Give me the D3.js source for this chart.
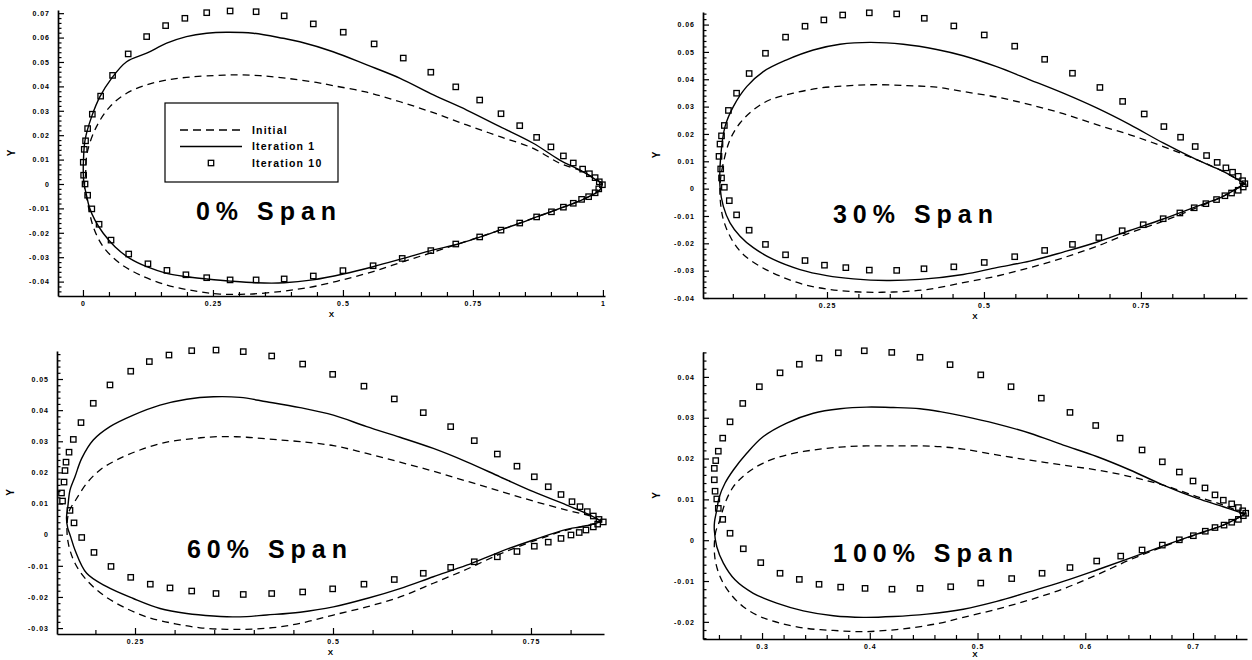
<!DOCTYPE html>
<html>
<head>
<meta charset="utf-8">
<script src="https://cdn.jsdelivr.net/npm/d3@7"></script>
<style>
  body { margin: 0; background: #fff; }
  svg { display: block; font-family: "Liberation Sans", Arial, sans-serif; }
</style>
</head>
<body>
<svg id="chart" width="1252" height="660"></svg>
<script>
// ---- Data (x/c, y/c), each surface listed from leading edge to trailing edge ----

// 0% span
var span0XTicks = [0, 0.25, 0.5, 0.75, 1];
var span0YTicks = [-0.04, -0.03, -0.02, -0.01, 0, 0.01, 0.02, 0.03, 0.04, 0.05, 0.06, 0.07];
var span0InitialUpper = [[0.003,-0.0008],[0.005,0.0037],[0.008,0.0127],[0.026,0.0235],[0.052,0.0317],[0.084,0.0372],[0.1225,0.0406],[0.161,0.0426],[0.199,0.0437],[0.238,0.0443],[0.289,0.0447],[0.34,0.0444],[0.392,0.0433],[0.449,0.0416],[0.481,0.0403],[0.546,0.0376],[0.61,0.0337],[0.674,0.0292],[0.738,0.0242],[0.802,0.0194],[0.866,0.0146],[0.917,0.0085],[0.962,0.005],[0.999,0.0003]];
var span0InitialLower = [[0.008,-0.0066],[0.0198,-0.0175],[0.039,-0.0257],[0.071,-0.0325],[0.11,-0.0373],[0.161,-0.0414],[0.212,-0.0437],[0.2635,-0.0451],[0.321,-0.0451],[0.379,-0.0441],[0.417,-0.043],[0.449,-0.0418],[0.5006,-0.0392],[0.558,-0.0359],[0.616,-0.0318],[0.674,-0.0279],[0.738,-0.0234],[0.802,-0.0189],[0.8725,-0.0135],[0.924,-0.0095],[0.962,-0.0063],[0.994,-0.0025],[0.999,0.0003]];
var span0Iter1Upper = [[0.002,0],[0.0006,0.005],[0.001,0.0098],[0.004,0.018],[0.0167,0.0276],[0.0327,0.0358],[0.055,0.0433],[0.084,0.0501],[0.1225,0.0536],[0.161,0.0577],[0.199,0.0604],[0.238,0.0618],[0.276,0.0622],[0.3275,0.0618],[0.385,0.0597],[0.417,0.0583],[0.481,0.0542],[0.546,0.0488],[0.61,0.0433],[0.674,0.0365],[0.738,0.0303],[0.802,0.0235],[0.866,0.0167],[0.917,0.0098],[0.962,0.005],[0.999,0]];
var span0Iter1Lower = [[0.006,-0.0038],[0.012,-0.0093],[0.023,-0.0148],[0.039,-0.0202],[0.0615,-0.0257],[0.09,-0.0305],[0.1225,-0.0339],[0.161,-0.0366],[0.199,-0.038],[0.238,-0.0389],[0.283,-0.0398],[0.333,-0.0405],[0.387,-0.0405],[0.442,-0.0393],[0.5006,-0.0369],[0.558,-0.0339],[0.616,-0.0305],[0.674,-0.027],[0.7185,-0.0248],[0.763,-0.0218],[0.802,-0.0189],[0.84,-0.0161],[0.8725,-0.0135],[0.924,-0.0095],[0.962,-0.0063],[0.994,-0.0025],[0.999,0]];
var span0Iter10Upper = [[0.004,0],[0.0013,0.0036],[0.0006,0.0089],[0.0025,0.0142],[0.005,0.0177],[0.009,0.0227],[0.018,0.0286],[0.034,0.036],[0.057,0.0445],[0.087,0.0533],[0.1225,0.0604],[0.159,0.0649],[0.196,0.0679],[0.238,0.0702],[0.283,0.0709],[0.333,0.0706],[0.387,0.0689],[0.443,0.0656],[0.5006,0.0622],[0.56,0.0574],[0.616,0.0516],[0.669,0.0458],[0.717,0.0398],[0.763,0.0344],[0.804,0.0288],[0.84,0.0239],[0.8725,0.0191],[0.9,0.0152],[0.924,0.0115],[0.943,0.0086],[0.961,0.0061],[0.974,0.0042],[0.985,0.0026],[0.993,0.0009],[0.999,-0.0003]];
var span0Iter10Lower = [[0.009,-0.0046],[0.017,-0.0102],[0.031,-0.0165],[0.054,-0.023],[0.088,-0.0287],[0.125,-0.0327],[0.1615,-0.0354],[0.198,-0.0372],[0.238,-0.0384],[0.283,-0.0393],[0.333,-0.0393],[0.387,-0.0389],[0.443,-0.0377],[0.5,-0.0355],[0.558,-0.0335],[0.614,-0.0305],[0.669,-0.0273],[0.717,-0.0246],[0.763,-0.0217],[0.804,-0.0189],[0.84,-0.016],[0.8725,-0.0135],[0.901,-0.0114],[0.924,-0.0095],[0.943,-0.0079],[0.959,-0.0063],[0.9725,-0.0052],[0.985,-0.0036],[0.992,-0.002]];

// 30% span
var span30XTicks = [0.25, 0.5, 0.75];
var span30YTicks = [-0.04, -0.03, -0.02, -0.01, 0, 0.01, 0.02, 0.03, 0.04, 0.05, 0.06];
var span30InitialUpper = [[0.0804,0.0033],[0.0849,0.0094],[0.0955,0.0179],[0.1115,0.024],[0.1326,0.0288],[0.1592,0.0325],[0.1963,0.0349],[0.2389,0.0368],[0.2814,0.0376],[0.3237,0.038],[0.3769,0.0377],[0.4247,0.0371],[0.467,0.0355],[0.5202,0.0335],[0.5732,0.0307],[0.6263,0.0274],[0.6795,0.0234],[0.7325,0.0197],[0.7855,0.0154],[0.8387,0.0106],[0.881,0.0063],[0.9156,0.0018]];
var span30InitialLower = [[0.0796,-0.0028],[0.0849,-0.0113],[0.0983,-0.0186],[0.1167,-0.0241],[0.1433,-0.0284],[0.1752,-0.032],[0.2123,-0.035],[0.2548,-0.0369],[0.3025,-0.0378],[0.3556,-0.0378],[0.4088,-0.0369],[0.467,-0.0344],[0.5202,-0.032],[0.5732,-0.0289],[0.6263,-0.0253],[0.6795,-0.0211],[0.7325,-0.0162],[0.7855,-0.0119],[0.8387,-0.007],[0.881,-0.0028],[0.9156,0.0018]];
var span30Iter1Upper = [[0.0796,0.0008],[0.0807,0.0118],[0.0876,0.0227],[0.1008,0.03],[0.1221,0.0373],[0.1486,0.0428],[0.1858,0.0471],[0.2282,0.0507],[0.2707,0.0528],[0.3185,0.0535],[0.3715,0.0528],[0.4247,0.0509],[0.467,0.0486],[0.5202,0.0446],[0.5732,0.0398],[0.6263,0.0349],[0.6795,0.0295],[0.7325,0.0234],[0.7855,0.0167],[0.8387,0.0106],[0.881,0.0063],[0.9156,0.0018]];
var span30Iter1Lower = [[0.0849,-0.0065],[0.0955,-0.0125],[0.1115,-0.0174],[0.1326,-0.0216],[0.1645,-0.0259],[0.207,-0.0296],[0.2495,-0.0318],[0.2919,-0.033],[0.3451,-0.0336],[0.3981,-0.0332],[0.467,-0.0314],[0.5202,-0.0289],[0.5732,-0.0265],[0.6263,-0.0232],[0.6795,-0.0196],[0.7325,-0.0153],[0.7855,-0.0111],[0.8387,-0.0065],[0.881,-0.0028],[0.9156,0.0018]];
var span30Iter10Upper = [[0.082,0.0039],[0.0807,0.0072],[0.078,0.0118],[0.0796,0.0163],[0.082,0.0193],[0.0865,0.0231],[0.093,0.0286],[0.106,0.0349],[0.126,0.0421],[0.152,0.0495],[0.184,0.0554],[0.215,0.0594],[0.245,0.0617],[0.275,0.0635],[0.3174,0.0643],[0.361,0.0639],[0.405,0.0623],[0.452,0.0595],[0.5005,0.0562],[0.549,0.0521],[0.5967,0.0473],[0.641,0.0422],[0.6847,0.037],[0.7209,0.0319],[0.7553,0.0273],[0.7866,0.0227],[0.8132,0.0188],[0.8365,0.0154],[0.8546,0.0121],[0.8715,0.0096],[0.8854,0.0076],[0.896,0.006],[0.905,0.0045],[0.912,0.0029],[0.9156,0.0018]];
var span30Iter10Lower = [[0.0865,0.0005],[0.0944,-0.0044],[0.106,-0.0096],[0.126,-0.0152],[0.152,-0.0204],[0.184,-0.0242],[0.215,-0.0263],[0.246,-0.028],[0.28,-0.0289],[0.3174,-0.0298],[0.361,-0.0299],[0.4045,-0.0293],[0.452,-0.0286],[0.5005,-0.027],[0.549,-0.0249],[0.5967,-0.0226],[0.641,-0.0204],[0.683,-0.0179],[0.7202,-0.0154],[0.7537,-0.0132],[0.7855,-0.011],[0.8121,-0.0089],[0.8349,-0.007],[0.8535,-0.0055],[0.8705,-0.004],[0.8838,-0.0026],[0.8944,-0.0016],[0.905,-0.0006],[0.913,0.0006]];

// 60% span
var span60XTicks = [0.25, 0.5, 0.75];
var span60YTicks = [-0.03, -0.02, -0.01, 0, 0.01, 0.02, 0.03, 0.04, 0.05];
var span60InitialUpper = [[0.1641,0.0024],[0.1668,0.0075],[0.1755,0.0113],[0.189,0.0165],[0.2058,0.0208],[0.2269,0.024],[0.2563,0.0272],[0.29,0.0297],[0.3236,0.0309],[0.3573,0.0315],[0.391,0.0313],[0.4246,0.0306],[0.4584,0.0299],[0.5005,0.0286],[0.5426,0.0261],[0.5846,0.0233],[0.6267,0.0204],[0.6688,0.0172],[0.7109,0.014],[0.753,0.0108],[0.795,0.0079],[0.8245,0.006],[0.8393,0.0043]];
var span60InitialLower = [[0.1658,-0.0028],[0.1742,-0.0092],[0.189,-0.0146],[0.21,-0.0194],[0.2352,-0.0232],[0.2648,-0.0264],[0.2984,-0.0285],[0.3321,-0.0299],[0.3658,-0.0304],[0.3994,-0.0303],[0.4331,-0.0296],[0.4668,-0.028],[0.5005,-0.0258],[0.5426,-0.0232],[0.5846,-0.02],[0.6267,-0.0156],[0.6688,-0.0111],[0.7109,-0.0062],[0.753,-0.0021],[0.795,0.0015],[0.8245,0.0031],[0.8393,0.0043]];
var span60Iter1Upper = [[0.1635,0.0053],[0.1654,0.0095],[0.1679,0.0143],[0.1742,0.0186],[0.1827,0.0245],[0.1973,0.0304],[0.2184,0.0347],[0.2479,0.0384],[0.2816,0.0416],[0.3153,0.0435],[0.3489,0.0443],[0.3826,0.0441],[0.4163,0.0427],[0.4584,0.0408],[0.5005,0.0384],[0.5426,0.0347],[0.5846,0.0313],[0.6267,0.0277],[0.6688,0.0234],[0.7109,0.0186],[0.753,0.0138],[0.795,0.0095],[0.8245,0.0063],[0.8393,0.0043]];
var span60Iter1Lower = [[0.165,0.0022],[0.1688,-0.0007],[0.1742,-0.0049],[0.189,-0.0124],[0.2143,-0.0167],[0.2479,-0.0205],[0.2816,-0.0237],[0.3153,-0.0253],[0.3489,-0.0261],[0.3826,-0.0264],[0.4163,-0.0258],[0.4584,-0.0249],[0.5005,-0.0232],[0.5426,-0.0205],[0.5846,-0.0173],[0.6267,-0.0135],[0.6688,-0.0098],[0.7109,-0.0055],[0.753,-0.0017],[0.795,0.0017],[0.8245,0.0031],[0.8393,0.0043]];
var span60Iter10Upper = [[0.1572,0.0134],[0.1604,0.0169],[0.1616,0.0206],[0.1629,0.0233],[0.1667,0.0265],[0.1721,0.0306],[0.1818,0.036],[0.1973,0.0422],[0.2184,0.0481],[0.2446,0.0525],[0.2681,0.0556],[0.2929,0.0577],[0.3216,0.0591],[0.3523,0.0593],[0.3867,0.0588],[0.4226,0.0574],[0.4617,0.0548],[0.4996,0.0515],[0.5391,0.0477],[0.5774,0.0436],[0.614,0.0392],[0.6486,0.0347],[0.6784,0.0302],[0.7075,0.0259],[0.7323,0.022],[0.7542,0.0186],[0.7718,0.0154],[0.7879,0.0129],[0.8018,0.0106],[0.8119,0.009],[0.8211,0.0074],[0.8287,0.006],[0.8359,0.0049],[0.8413,0.0041]];
var span60Iter10Lower = [[0.1585,0.0108],[0.1679,0.0078],[0.173,0.0038],[0.1827,-0.0009],[0.1982,-0.0057],[0.2197,-0.0102],[0.2446,-0.0137],[0.2693,-0.0159],[0.2942,-0.0171],[0.3216,-0.0181],[0.3523,-0.0189],[0.3867,-0.0192],[0.4226,-0.0189],[0.4617,-0.0184],[0.4996,-0.0174],[0.5391,-0.0159],[0.5774,-0.0144],[0.614,-0.0124],[0.6486,-0.0105],[0.6784,-0.0087],[0.7075,-0.0071],[0.7323,-0.0054],[0.7542,-0.0037],[0.7718,-0.0024],[0.7879,-0.0012],[0.8005,-0.0001],[0.8109,0.0007],[0.8194,0.0015],[0.8287,0.0025],[0.8342,0.0034]];

// 100% span
var span100XTicks = [0.3, 0.4, 0.5, 0.6, 0.7];
var span100YTicks = [-0.02, -0.01, 0, 0.01, 0.02, 0.03, 0.04];
var span100InitialUpper = [[0.2568,0.0018],[0.261,0.005],[0.2657,0.0091],[0.2734,0.0131],[0.2858,0.0164],[0.3012,0.0189],[0.3229,0.0209],[0.3476,0.0221],[0.3724,0.0228],[0.3972,0.0231],[0.4219,0.0231],[0.4466,0.0231],[0.4652,0.0229],[0.4868,0.0223],[0.5178,0.0209],[0.5487,0.0196],[0.5796,0.0184],[0.6106,0.0172],[0.6415,0.0156],[0.6724,0.0135],[0.7034,0.0107],[0.7281,0.0086],[0.7483,0.0064]];
var span100InitialLower = [[0.2561,-0.004],[0.261,-0.0089],[0.2703,-0.013],[0.2826,-0.0163],[0.2981,-0.0187],[0.3167,-0.0203],[0.3415,-0.0216],[0.3662,-0.0221],[0.391,-0.0224],[0.4158,-0.0221],[0.4404,-0.0214],[0.4652,-0.0203],[0.4868,-0.0189],[0.5178,-0.0169],[0.5487,-0.0146],[0.5796,-0.0119],[0.6106,-0.0085],[0.6415,-0.0048],[0.6724,-0.0016],[0.7034,0.0014],[0.7281,0.0037],[0.7483,0.0064]];
var span100Iter1Upper = [[0.2559,0.0045],[0.258,0.0074],[0.2601,0.0104],[0.2657,0.014],[0.2734,0.0172],[0.2858,0.0213],[0.3012,0.0254],[0.3229,0.0287],[0.3476,0.0311],[0.3724,0.0322],[0.3972,0.0326],[0.4219,0.0325],[0.4466,0.0322],[0.4652,0.0315],[0.4868,0.0304],[0.5178,0.0285],[0.5487,0.0262],[0.5796,0.0233],[0.6106,0.0205],[0.6415,0.0172],[0.6724,0.0135],[0.7034,0.0103],[0.7281,0.0082],[0.7483,0.0064]];
var span100Iter1Lower = [[0.2557,0.0025],[0.258,-0.0016],[0.2641,-0.0056],[0.2749,-0.0097],[0.2919,-0.013],[0.3136,-0.0154],[0.3383,-0.0173],[0.3662,-0.0185],[0.394,-0.0189],[0.4219,-0.0187],[0.4529,-0.0181],[0.4868,-0.0169],[0.5178,-0.015],[0.5487,-0.0126],[0.5796,-0.0101],[0.6106,-0.0073],[0.6415,-0.0044],[0.6724,-0.0014],[0.7034,0.0015],[0.7281,0.0037],[0.7483,0.0064]];
var span100Iter10Upper = [[0.2557,0.0148],[0.2557,0.0176],[0.257,0.0195],[0.2594,0.0218],[0.2635,0.025],[0.2703,0.029],[0.2821,0.0335],[0.2975,0.0376],[0.3167,0.041],[0.3346,0.0431],[0.3529,0.0446],[0.3708,0.0459],[0.3949,0.0464],[0.4204,0.046],[0.4466,0.0448],[0.4745,0.043],[0.503,0.0405],[0.5311,0.0376],[0.5592,0.0348],[0.5858,0.0313],[0.6097,0.0281],[0.6323,0.025],[0.6527,0.0221],[0.6715,0.0192],[0.6873,0.0167],[0.7,0.0145],[0.7111,0.0128],[0.7204,0.0111],[0.7281,0.0098],[0.7359,0.0089],[0.7421,0.008],[0.7461,0.0072],[0.7489,0.0066]];
var span100Iter10Lower = [[0.2564,0.012],[0.258,0.0101],[0.2594,0.0078],[0.2635,0.0051],[0.2703,0.0017],[0.2826,-0.0021],[0.2988,-0.0055],[0.3167,-0.0081],[0.3346,-0.0096],[0.3529,-0.0108],[0.373,-0.0115],[0.3956,-0.0118],[0.4206,-0.012],[0.4466,-0.0118],[0.4751,-0.0114],[0.503,-0.0105],[0.5317,-0.0094],[0.5599,-0.0081],[0.5858,-0.0067],[0.6106,-0.0051],[0.6329,-0.0039],[0.6527,-0.0024],[0.6715,-0.0012],[0.6873,0.0001],[0.7003,0.0011],[0.7114,0.0022],[0.7204,0.0031],[0.7288,0.0037],[0.7359,0.0044],[0.7421,0.0051],[0.7467,0.006]];

var legendLabels = ["Initial", "Iteration 1", "Iteration 10"];

// ---- Panel layout ----
var panels = [
    { title: "0% Span", left: 58, right: 605, top: 10, bottom: 296,
      xDomain: [-0.048, 1.004], yDomain: [-0.0459, 0.0713],
      xTicks: span0XTicks, yTicks: span0YTicks, xMinor: 0.05,
      initial: [span0InitialUpper, span0InitialLower],
      iter1: [span0Iter1Upper, span0Iter1Lower],
      iter10: [span0Iter10Upper, span0Iter10Lower],
      titleX: 266, titleY: 220, legend: true },
    { title: "30% Span", left: 703, right: 1247, top: 12, bottom: 298,
      xDomain: [0.0525, 0.919], yDomain: [-0.04, 0.0646],
      xTicks: span30XTicks, yTicks: span30YTicks, xMinor: 0.05,
      initial: [span30InitialUpper, span30InitialLower],
      iter1: [span30Iter1Upper, span30Iter1Lower],
      iter10: [span30Iter10Upper, span30Iter10Lower],
      titleX: 913, titleY: 223 },
    { title: "60% Span", left: 57, right: 604, top: 351, bottom: 634,
      xDomain: [0.1515, 0.8422], yDomain: [-0.0319, 0.059],
      xTicks: span60XTicks, yTicks: span60YTicks, xMinor: 0.05,
      initial: [span60InitialUpper, span60InitialLower],
      iter1: [span60Iter1Upper, span60Iter1Lower],
      iter10: [span60Iter10Upper, span60Iter10Lower],
      titleX: 267, titleY: 558 },
    { title: "100% Span", left: 703, right: 1247, top: 352, bottom: 639,
      xDomain: [0.2452, 0.7501], yDomain: [-0.0242, 0.0461],
      xTicks: span100XTicks, yTicks: span100YTicks, xMinor: 0.02,
      initial: [span100InitialUpper, span100InitialLower],
      iter1: [span100Iter1Upper, span100Iter1Lower],
      iter10: [span100Iter10Upper, span100Iter10Lower],
      titleX: 923, titleY: 562 }
];

var svg = d3.select("#chart");
var tickFormat = function (d) { return String(+d.toFixed(3)); };

// minor tick values on a fixed step, skipping the labelled ones
function minorTicks(domain, step, majors) {
    var out = [];
    for (var i = Math.ceil(domain[0] / step - 1e-9); i * step <= domain[1] + 1e-9; i++) {
        var v = +(i * step).toFixed(4);
        if (!majors.some(function (m) { return Math.abs(m - v) < 1e-6; })) out.push(v);
    }
    return out;
}

// closed-ish section: upper surface from TE back to LE, then lower surface to TE
function section(pair) {
    return pair[0].slice().reverse().concat(pair[1]);
}

panels.forEach(function (p) {
    var x = d3.scaleLinear().domain(p.xDomain).range([p.left, p.right]);
    var y = d3.scaleLinear().domain(p.yDomain).range([p.bottom, p.top]);
    var g = svg.append("g");

    var line = d3.line()
        .x(function (d) { return x(d[0]); })
        .y(function (d) { return y(d[1]); })
        .curve(d3.curveCatmullRom.alpha(0.5));

    // Initial (dashed)
    g.append("path")
        .attr("d", line(section(p.initial)))
        .attr("fill", "none")
        .attr("stroke", "#000")
        .attr("stroke-width", 1.3)
        .attr("stroke-dasharray", "7,5");

    // Iteration 1 (solid)
    g.append("path")
        .attr("d", line(section(p.iter1)))
        .attr("fill", "none")
        .attr("stroke", "#000")
        .attr("stroke-width", 1.4);

    // Iteration 10 (open squares)
    g.selectAll("rect.sq")
        .data(p.iter10[0].concat(p.iter10[1]))
        .enter()
        .append("rect")
        .attr("class", "sq")
        .attr("x", function (d) { return x(d[0]) - 2.7; })
        .attr("y", function (d) { return y(d[1]) - 2.7; })
        .attr("width", 5.4)
        .attr("height", 5.4)
        .attr("fill", "none")
        .attr("stroke", "#000")
        .attr("stroke-width", 1.3);

    // Axes
    g.append("g")
        .attr("transform", "translate(" + p.left + ",0)")
        .call(d3.axisLeft(y).tickValues(p.yTicks).tickSize(-6).tickSizeOuter(0).tickPadding(8).tickFormat(tickFormat));
    g.append("g")
        .attr("transform", "translate(" + p.left + ",0)")
        .call(d3.axisLeft(y).tickValues(minorTicks(p.yDomain, 0.002, p.yTicks)).tickSize(-3.5).tickSizeOuter(0).tickFormat(""))
        .select(".domain").remove();

    g.append("g")
        .attr("transform", "translate(0," + p.bottom + ")")
        .call(d3.axisBottom(x).tickValues(p.xTicks).tickSize(-6).tickSizeOuter(0).tickPadding(5).tickFormat(tickFormat));
    g.append("g")
        .attr("transform", "translate(0," + p.bottom + ")")
        .call(d3.axisBottom(x).tickValues(minorTicks(p.xDomain, p.xMinor, p.xTicks)).tickSize(-4).tickSizeOuter(0).tickFormat(""))
        .select(".domain").remove();

    g.selectAll(".domain").attr("stroke", "#000").attr("stroke-width", 1.7);
    g.selectAll(".tick line").attr("stroke", "#000").attr("stroke-width", 1.2);
    g.selectAll(".tick text")
        .attr("fill", "#000")
        .style("font-size", "7px")
        .style("font-weight", "bold")
        .style("letter-spacing", "1px");

    // Axis titles
    g.append("text")
        .attr("x", (p.left + p.right) / 2)
        .attr("y", Math.min(p.bottom + 21, 657))
        .attr("text-anchor", "middle")
        .style("font-size", "8px")
        .style("font-weight", "bold")
        .text("X");

    g.append("text")
        .attr("transform", "translate(" + (p.left - 43) + "," + ((p.top + p.bottom) / 2) + ") rotate(-90)")
        .attr("text-anchor", "middle")
        .style("font-size", "10px")
        .style("font-weight", "bold")
        .text("Y");

    // Span title
    g.append("text")
        .attr("x", p.titleX + 3)
        .attr("y", p.titleY)
        .attr("text-anchor", "middle")
        .style("font-size", "25px")
        .style("font-weight", "bold")
        .style("letter-spacing", "6px")
        .text(p.title);

    if (p.legend) {
        var lg = g.append("g").attr("transform", "translate(165,103)");
        lg.append("rect")
            .attr("width", 173)
            .attr("height", 79)
            .attr("fill", "#fff")
            .attr("stroke", "#000")
            .attr("stroke-width", 1.2);
        var rows = lg.selectAll("g.row")
            .data(legendLabels)
            .enter()
            .append("g")
            .attr("class", "row")
            .attr("transform", function (d, i) { return "translate(0," + (27 + i * 16.5) + ")"; });
        rows.filter(function (d, i) { return i < 2; })
            .append("line")
            .attr("x1", 15).attr("x2", 77)
            .attr("stroke", "#000")
            .attr("stroke-width", 1.3)
            .attr("stroke-dasharray", function (d, i) { return i === 0 ? "8,5" : null; });
        rows.filter(function (d, i) { return i === 2; })
            .append("rect")
            .attr("x", 43.3).attr("y", -2.7)
            .attr("width", 5.4).attr("height", 5.4)
            .attr("fill", "none")
            .attr("stroke", "#000")
            .attr("stroke-width", 1.3);
        rows.append("text")
            .attr("x", 87)
            .attr("dy", "0.35em")
            .style("font-size", "10.5px")
            .style("font-weight", "bold")
            .style("letter-spacing", "1.2px")
            .text(function (d) { return d; });
    }
});
</script>
</body>
</html>
